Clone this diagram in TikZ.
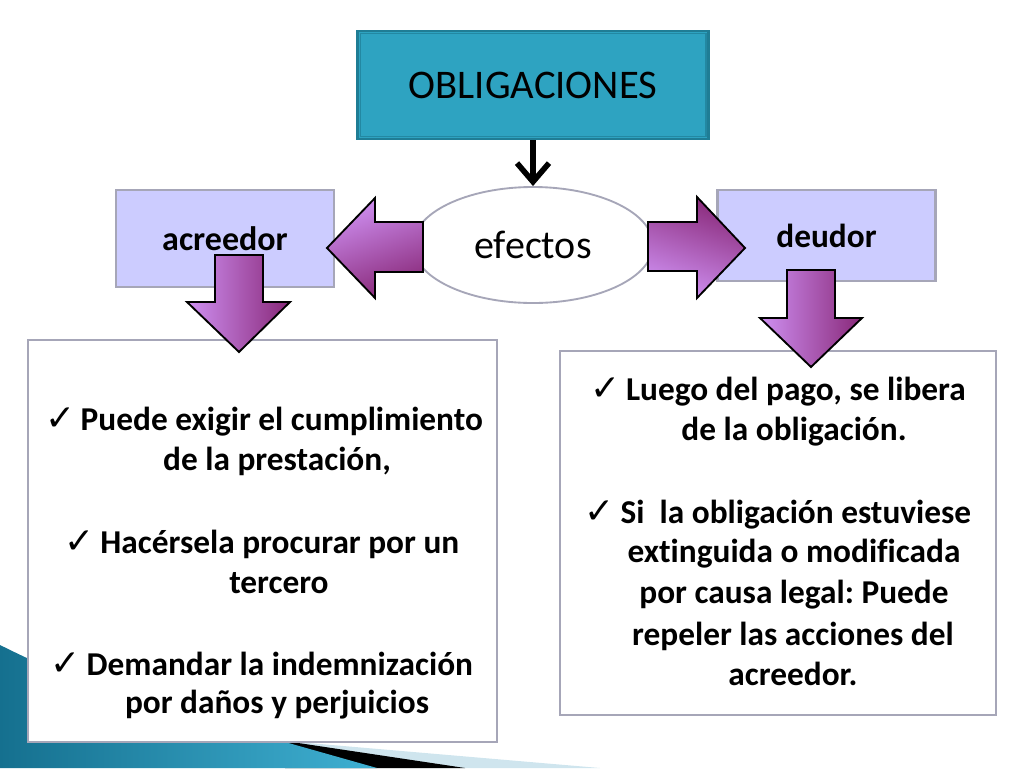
\documentclass[tikz,border=0pt]{standalone}
\usepackage{fontspec}
\setmainfont{Carlito}[Ligatures=NoCommon]
\newfontfamily\checkfont{DejaVu Sans}
\usetikzlibrary{arrows.meta,shapes.geometric}
\definecolor{titlefill}{HTML}{2EA3C1}
\definecolor{titleline}{HTML}{1F7D95}
\definecolor{lavender}{HTML}{CCCCFF}
\definecolor{boxline}{HTML}{A6A6B8}
\definecolor{plight}{HTML}{CF90F2}
\definecolor{pdark}{HTML}{882878}
\definecolor{tealdark}{HTML}{15708F}
\definecolor{teallight}{HTML}{3FB0D2}
\definecolor{paleblue}{HTML}{CFE5EE}
\tikzset{
  txt/.style={font=\bfseries\fontsize{25}{29}\selectfont, anchor=base, inner sep=0pt},
  sidebox/.style={draw=boxline, line width=1.6pt, fill=lavender, minimum width=218*0.75pt, inner sep=0pt},
  listbox/.style={draw=boxline, line width=1.6pt, fill=white, inner sep=0pt},
  fatarrow/.style={draw=black, line width=1.4pt, line join=miter},
}
\newcommand{\ck}{{\checkfont\fontsize{27}{27}\selectfont ✓}\,}
\frenchspacing
\begin{document}
\begin{tikzpicture}[x=0.75pt,y=-0.75pt]
\useasboundingbox (0,0) rectangle (1024,768);
% background decoration
\fill[paleblue] (285,741) -- (600,768) -- (285,768) -- cycle;
\fill[black] (285,741) -- (465,768) -- (285,768) -- cycle;
\shade[left color=tealdark, right color=teallight] (0,645) .. controls (90,690) and (200,730) .. (285,742) -- (377,768) -- (0,768) -- cycle;

% title
\node[draw=titleline, line width=2.2pt, fill=titlefill, minimum width=351*0.75pt, minimum height=108*0.75pt, inner sep=0pt,
  font=\fontsize{30.5}{33}\selectfont] (obl) at (533,85) {OBLIGACIONES};
\draw[titleline!70!titlefill, line width=0.8pt] ([xshift=4*0.75pt,yshift=-4*0.75pt]obl.north west) rectangle ([xshift=-4*0.75pt,yshift=4*0.75pt]obl.south east);

% ellipse
\node[ellipse, draw=boxline, line width=1.4pt, fill=white, minimum width=240*0.75pt, minimum height=116*0.75pt, inner sep=0pt,
  font=\fontsize{30}{33}\selectfont] (ef) at (533,245) {efectos};

\draw[line width=4.2pt, -{Straight Barb[length=14pt, width=24pt, line width=4.2pt]}] (obl.south) -- (ef.north);

% side boxes
\node[sidebox, minimum height=97*0.75pt, font=\bfseries\fontsize{25.5}{28}\selectfont] (acr) at (225,238.5) {acreedor};
\node[sidebox, minimum height=91*0.75pt, font=\bfseries\fontsize{25}{28}\selectfont] (deu) at (826.5,235.5) {deudor};

% list boxes
\node[listbox, minimum width=469*0.75pt, minimum height=402*0.75pt] (lb) at (262.5,541) {};
\node[listbox, minimum width=436*0.75pt, minimum height=364*0.75pt] (rb) at (778,533) {};

% fat arrows
\path[fatarrow, top color=plight, bottom color=pdark, shading angle=20]
  (423,222) -- (375,222) -- (375,198) -- (327,248) -- (375,298) -- (375,272) -- (423,272) -- cycle;
\path[fatarrow, top color=pdark, bottom color=plight, shading angle=-20]
  (648,222) -- (697,222) -- (697,197) -- (745,248) -- (697,298) -- (697,271) -- (648,271) -- cycle;
\path[fatarrow, left color=plight, right color=pdark]
  (215,255) -- (263,255) -- (263,302) -- (290,302) -- (239,352) -- (187,302) -- (215,302) -- cycle;
\path[fatarrow, left color=plight, right color=pdark]
  (787,270) -- (835,270) -- (835,318) -- (862,318) -- (811,367) -- (760,318) -- (787,318) -- cycle;

% left list text
\node[txt] (l1) at (264,430) {\ck Puede exigir el cumplimiento};
\node[txt] (l2) at (277,470) {de la prestación,};
\node[txt] (l3) at (262,553) {\ck Hacérsela procurar por un};
\node[txt] (l4) at (279,593) {tercero};
\node[txt] (l5) at (262,675) {\ck Demandar la indemnización};
\node[txt] (l6) at (277,713) {por daños y perjuicios};

% right list text
\node[txt] (r1) at (778,400) {\ck Luego del pago, se libera};
\node[txt] (r2) at (794,440) {de la obligación.};
\node[txt] (r3) at (778,523) {\ck Si\ \ la obligación estuviese};
\node[txt] (r4) at (794,562) {extinguida o modificada};
\node[txt] (r5) at (794,603) {por causa legal: Puede};
\node[txt] (r6) at (793,645) {repeler las acciones del};
\node[txt] (r7) at (793,685) {acreedor.};
\end{tikzpicture}
\end{document}
